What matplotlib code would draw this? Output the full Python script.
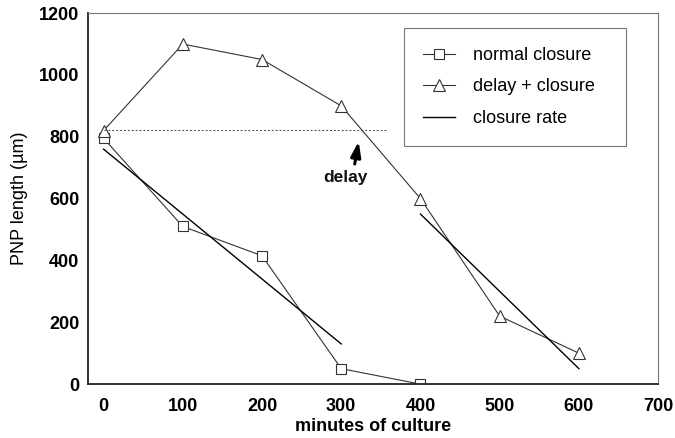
import matplotlib.pyplot as plt

# data
minutes_normal = [0, 100, 200, 300, 400]
normal_closure = [795, 510, 415, 50, 0]

minutes_delay = [0, 100, 200, 300, 400, 500, 600]
delay_closure = [820, 1100, 1050, 900, 600, 220, 100]

rate1_x = [0, 300]
rate1_y = [760, 130]
rate2_x = [400, 600]
rate2_y = [550, 50]

delay_level = 822
delay_end = 358

plt.rcParams['font.family'] = ['Liberation Sans', 'DejaVu Sans']

fig = plt.figure(figsize=(6.75, 4.38), dpi=100)
ax = fig.add_axes([0.130, 0.123, 0.845, 0.847])

ax.plot(minutes_normal, normal_closure, color='#333333', lw=0.8,
        marker='s', markersize=7.5, markerfacecolor='white',
        markeredgecolor='#333333', markeredgewidth=0.8, label='normal closure')
ax.plot(minutes_delay, delay_closure, color='#333333', lw=0.8,
        marker='^', markersize=9, markerfacecolor='white',
        markeredgecolor='#333333', markeredgewidth=0.8, label='delay + closure')
ax.plot(rate1_x, rate1_y, color='black', lw=1.0, label='closure rate')
ax.plot(rate2_x, rate2_y, color='black', lw=1.0)

ax.plot([0, delay_end], [delay_level, delay_level], color='#444444',
        lw=0.7, ls=(0, (2, 2)))

# arrow marking the delay
ax.annotate('', xy=(322, 785), xytext=(317, 712),
            arrowprops=dict(arrowstyle='-|>,head_width=0.3,head_length=0.9',
                            color='black', lw=2.2, shrinkA=0, shrinkB=0))
ax.text(305, 667, 'delay', ha='center', va='center', fontsize=12.5,
        fontweight='bold', color='#111111')

ax.set_xlim(-20, 700)
ax.set_ylim(0, 1200)
ax.set_xticks(range(0, 701, 100))
ax.set_yticks(range(0, 1201, 200))
ax.tick_params(length=0, labelsize=13)
ax.tick_params(axis='x', pad=10)
ax.tick_params(axis='y', pad=6)
for lab in ax.get_xticklabels() + ax.get_yticklabels():
    lab.set_fontweight('bold')

ax.set_xlabel('minutes of culture', fontsize=13, fontweight='bold', labelpad=2)
ax.set_ylabel('PNP length (\u00b5m)', fontsize=13, labelpad=8)

for side in ['left', 'bottom']:
    ax.spines[side].set_color('#222222')
    ax.spines[side].set_linewidth(1.3)
for side in ['top', 'right']:
    ax.spines[side].set_color('#777777')
    ax.spines[side].set_linewidth(0.8)

leg = ax.legend(loc='upper left', bbox_to_anchor=(0.554, 0.663, 0.39, 0.297),
                mode='expand', borderaxespad=0, fontsize=13, frameon=True,
                fancybox=False, handlelength=1.8, borderpad=1.05,
                labelspacing=0.8, handletextpad=1.0)
leg.get_frame().set_edgecolor('#555555')
leg.get_frame().set_linewidth(0.8)

fig.savefig('out.png', dpi=100)
